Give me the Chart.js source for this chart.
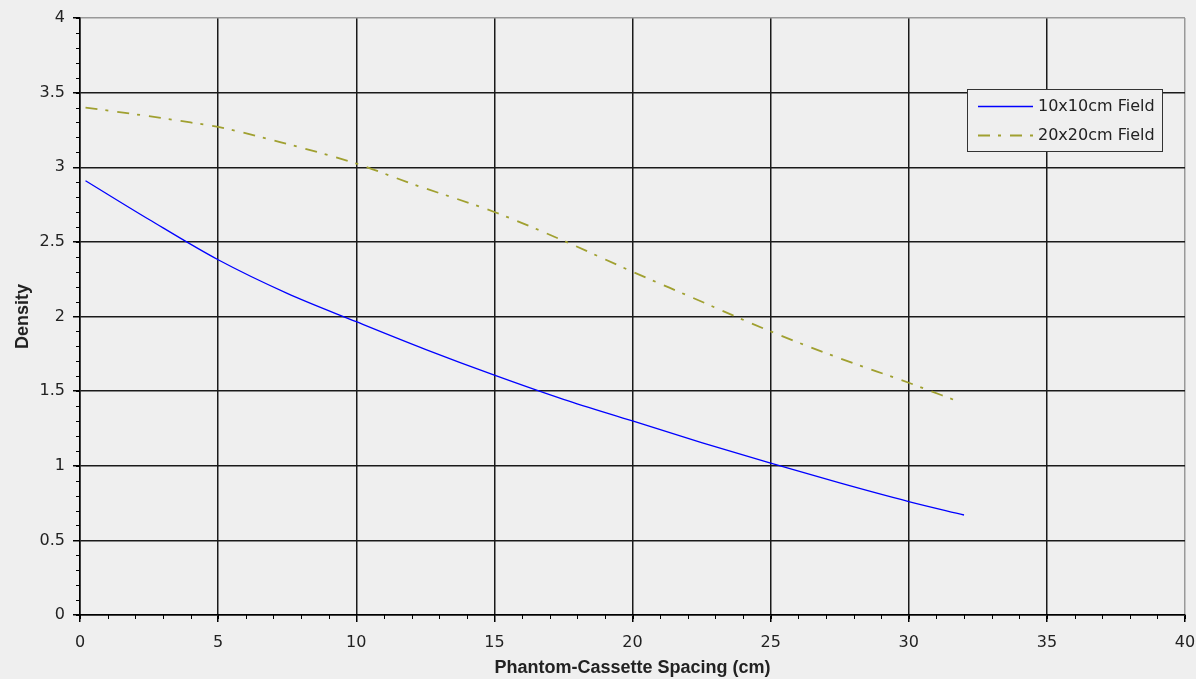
<!DOCTYPE html>
<html>
<head>
<meta charset="utf-8">
<script src="https://cdn.jsdelivr.net/npm/chart.js@4/dist/chart.umd.min.js"></script>
<style>
  html, body { margin: 0; padding: 0; background: #efefef; }
  #wrap { width: 1196px; height: 679px; }
</style>
</head>
<body>
<div id="wrap"><canvas id="lineChart" width="1196" height="679"></canvas></div>
<script>
// spacing (cm) and density
const spacing10 = [0.2, 2.5, 5, 7.5, 10, 12.5, 15, 17.5, 20, 22.5, 25, 27.5, 30, 32];
const density10 = [2.91, 2.65, 2.38, 2.155, 1.965, 1.78, 1.607, 1.445, 1.30, 1.155, 1.018, 0.885, 0.76, 0.67];
const spacing20 = [0.2, 2, 4, 5, 7, 10, 12, 15, 17.6, 20, 22, 25, 27.5, 30, 31.8];
const density20 = [3.40, 3.355, 3.30, 3.27, 3.18, 3.025, 2.89, 2.70, 2.50, 2.30, 2.14, 1.90, 1.72, 1.556, 1.43];
const seriesLabels = ['10x10cm Field', '20x20cm Field'];
const xTitle = 'Phantom-Cassette Spacing (cm)';
const yTitle = 'Density';

const toPoints = (xs, ys) => xs.map((x, i) => ({ x: x, y: ys[i] }));

// minor tick marks on both axes
const minorTicks = {
  id: 'minorTicks',
  afterDraw(chart) {
    const { ctx, scales: { x, y }, chartArea } = chart;
    ctx.save();
    ctx.strokeStyle = '#000';
    ctx.lineWidth = 1;
    ctx.beginPath();
    for (let v = 0; v <= 4.0001; v += 0.1) {
      const py = Math.round(y.getPixelForValue(v)) + 0.5;
      ctx.moveTo(chartArea.left - 4, py);
      ctx.lineTo(chartArea.left, py);
    }
    for (let v = 0; v <= 40; v += 1) {
      const px = Math.round(x.getPixelForValue(v)) + 0.5;
      ctx.moveTo(px, chartArea.bottom);
      ctx.lineTo(px, chartArea.bottom + 4);
    }
    ctx.stroke();
    ctx.restore();
  }
};

// boxed legend inside the plot
const boxLegend = {
  id: 'boxLegend',
  afterDraw(chart) {
    const { ctx } = chart;
    const left = 967.5, top = 89.5, w = 195, h = 62;
    ctx.save();
    ctx.fillStyle = '#efefef';
    ctx.fillRect(left, top, w, h);
    ctx.strokeStyle = '#333';
    ctx.lineWidth = 1;
    ctx.strokeRect(left, top, w, h);
    ctx.font = '16px "DejaVu Sans"';
    ctx.textBaseline = 'middle';
    chart.data.datasets.forEach((ds, i) => {
      const yy = top + 16 + i * 29.5;
      ctx.strokeStyle = ds.borderColor;
      ctx.lineWidth = ds.borderWidth;
      ctx.setLineDash(ds.borderDash || []);
      ctx.beginPath();
      ctx.moveTo(978, Math.round(yy) + 0.5);
      ctx.lineTo(1033, Math.round(yy) + 0.5);
      ctx.stroke();
      ctx.setLineDash([]);
      ctx.fillStyle = '#222';
      ctx.fillText(ds.label, 1038, yy + 1);
    });
    ctx.restore();
  }
};

const ctx = document.getElementById('lineChart').getContext('2d');
new Chart(ctx, {
  type: 'line',
  data: {
    datasets: [{
      label: seriesLabels[0],
      data: toPoints(spacing10, density10),
      borderColor: '#0000ff',
      borderWidth: 1.3,
      pointRadius: 0,
      cubicInterpolationMode: 'monotone',
      fill: false
    }, {
      label: seriesLabels[1],
      data: toPoints(spacing20, density20),
      borderColor: '#a0a030',
      borderWidth: 1.8,
      borderDash: [12, 8, 3, 9],
      pointRadius: 0,
      cubicInterpolationMode: 'monotone',
      fill: false
    }]
  },
  options: {
    responsive: false,
    animation: false,
    layout: { padding: { top: 18, right: 11, left: 0, bottom: 0 } },
    plugins: {
      legend: { display: false },
      tooltip: { enabled: false }
    },
    scales: {
      x: {
        type: 'linear',
        min: 0,
        max: 40,
        afterFit: s => { s.height = 64; s.paddingRight = 0; s.paddingLeft = 0; },
        ticks: { stepSize: 5, color: '#222', padding: 11, font: { family: 'DejaVu Sans', size: 16 } },
        grid: {
          color: c => (c.tick && c.tick.value === 40 ? '#999' : '#1a1a1a'),
          lineWidth: 1.5,
          tickColor: '#000',
          tickLength: 7
        },
        border: { color: '#000', width: 1.5 },
        title: {
          display: true,
          text: xTitle,
          color: '#222',
          padding: { top: 0, bottom: 0 },
          font: { family: 'Liberation Sans', size: 18, weight: 'bold' }
        }
      },
      y: {
        min: 0,
        max: 4,
        afterFit: s => { s.width = 80; },
        ticks: {
          stepSize: 0.5,
          color: '#222',
          padding: 8,
          font: { family: 'DejaVu Sans', size: 16 },
          callback: v => String(Math.round(v * 10) / 10)
        },
        grid: {
          color: c => (c.tick && c.tick.value === 4 ? '#999' : '#1a1a1a'),
          lineWidth: 1.5,
          tickColor: '#000',
          tickLength: 7
        },
        border: { color: '#000', width: 1.5 },
        title: {
          display: true,
          text: yTitle,
          color: '#222',
          padding: { top: 12, bottom: 0 },
          font: { family: 'Liberation Sans', size: 18, weight: 'bold' }
        }
      }
    }
  },
  plugins: [minorTicks, boxLegend]
});
</script>
</body>
</html>
